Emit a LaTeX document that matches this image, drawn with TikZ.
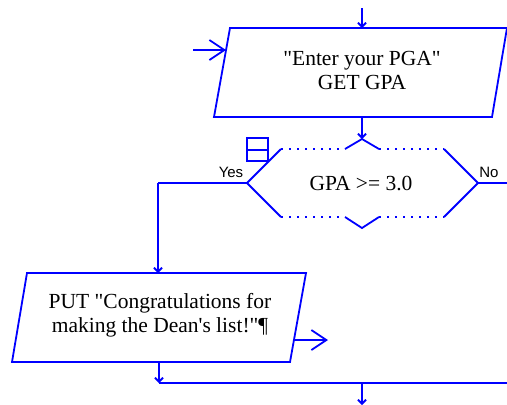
\documentclass[tikz,border=0pt]{standalone}
\usepackage{fontspec}
\setmainfont{Liberation Serif}[Ligatures=TeXOff]
\newfontfamily\labelfont{Liberation Sans}
\usetikzlibrary{arrows.meta}
\definecolor{flowblue}{RGB}{0,0,255}
\begin{document}
\begin{tikzpicture}[x=1pt,y=-1pt,
  flow/.style={draw=flowblue, line width=1.8pt, line join=miter},
  dotted edge/.style={draw=flowblue, line width=1.8pt, dash pattern=on 2pt off 6pt},
  smallarrow/.style={draw=flowblue, line width=1.8pt, -{Straight Barb[length=4pt,width=8pt]}},
  bigarrow/.style={draw=flowblue, line width=1.8pt, -{Straight Barb[length=15pt,width=20pt]}},
  boxtext/.style={font=\fontsize{21.5}{24}\selectfont, align=center, inner sep=0pt},
  branch/.style={font=\labelfont\fontsize{15}{17}\selectfont, inner sep=0pt}]
\useasboundingbox (0,0) rectangle (507,405);

% input box: prompt and read GPA
\coordinate (inTL) at (230,28);
\coordinate (inTR) at (507,28);
\coordinate (inBR) at (492,117);
\coordinate (inBL) at (214,117);
\draw[flow] (inTL) -- (inTR) -- (inBR) -- (inBL) -- cycle;
\node[boxtext] (getgpa) at (362,70) {"Enter your PGA"\\GET GPA};

% selection: GPA test
\coordinate (dL) at (247,183);
\coordinate (dR) at (478,183);
\coordinate (dTL) at (281,149);
\coordinate (dTR) at (444,149);
\coordinate (dBL) at (281,217);
\coordinate (dBR) at (444,217);
\coordinate (nTa) at (345,149);
\coordinate (nTtip) at (362,139);
\coordinate (nTb) at (379,149);
\coordinate (nBa) at (345,217);
\coordinate (nBtip) at (362,228);
\coordinate (nBb) at (379,217);
\draw[flow] (dTL) -- (dL) -- (dBL);
\draw[flow] (dTR) -- (dR) -- (dBR);
\draw[flow] (nTa) -- (nTtip) -- (nTb);
\draw[flow] (nBa) -- (nBtip) -- (nBb);
\draw[dotted edge] (dTL) -- (nTa) (nTb) -- (dTR);
\draw[dotted edge] (dBL) -- (nBa) (nBb) -- (dBR);
\node[boxtext] (test) at (361,183) {GPA >= 3.0};
% collapse toggle
\draw[draw=flowblue, fill=white, line width=1.5pt] (247,138) rectangle (268,161);
\draw[draw=flowblue, line width=1.5pt] (247,150) -- (268,150);
\node[branch] (yes) at (231,172) {Yes};
\node[branch] (no) at (489,172) {No};

% output box: congratulation message
\coordinate (outTL) at (27,273);
\coordinate (outTR) at (306,273);
\coordinate (outBR) at (290,362);
\coordinate (outBL) at (12,362);
\draw[flow] (outTL) -- (outTR) -- (outBR) -- (outBL) -- cycle;
\node[boxtext] (put) at (160,315) {PUT "Congratulations for\\making the Dean's list!"¶};

% connectors
\coordinate (start) at (362,8);
\coordinate (entry) at (193,50);
\coordinate (entrytip) at (226,50);
\coordinate (inbottom) at (362,117);
\coordinate (yescorner) at (158,183);
\coordinate (outtop) at (158,273);
\coordinate (noend) at (507,183);
\coordinate (outright) at (294,340);
\coordinate (outrighttip) at (328,340);
\coordinate (outbottom) at (159,362);
\coordinate (joinleft) at (159,383);
\coordinate (joinright) at (507,383);
\coordinate (joinmid) at (362,383);
\coordinate (finish) at (362,405);

\draw[smallarrow] (start) -- (inTL -| start);
\draw[bigarrow] (entry) -- (entrytip);
\draw[smallarrow] (inbottom) -- (nTtip);
\draw[flow] (dL) -- (yescorner);
\draw[smallarrow] (yescorner) -- (outtop);
\draw[flow] (dR) -- (noend);
\draw[bigarrow] (outright) -- (outrighttip);
\draw[smallarrow] (outbottom) -- (joinleft);
\draw[flow] (joinleft) -- (joinright);
\draw[smallarrow] (joinmid) -- (finish);
\end{tikzpicture}
\end{document}
